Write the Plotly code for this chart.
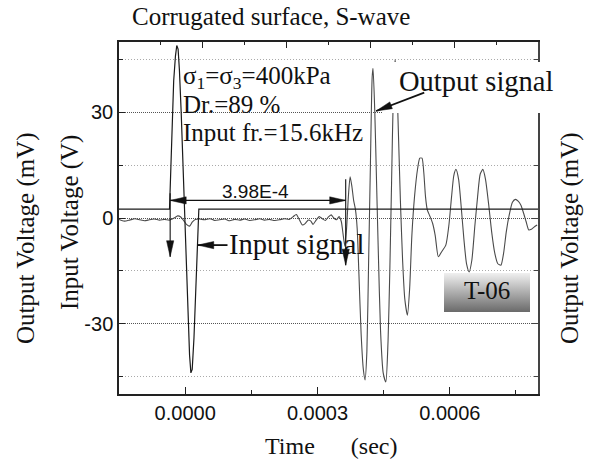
import base64
import math
import numpy as np
import plotly.graph_objects as go

# ---------------- data (time in microseconds, voltage) ----------------
input_t_us = [-150, -35.5, -33, -30, -26, -22, -19, -16, -13, -9, -5, -1, 3, 7,
              10, 13, 16, 20, 24, 28, 31, 800]
input_v = [2.5, 2.5, 12, 25, 39, 46, 49, 48, 42, 30, 15, 2, -14, -30,
           -39, -44, -43, -34, -19, -5, 2.5, 2.5]

output_t_us = [-150, -138, -126, -114, -103, -92, -81, -70, -58, -47, -36, -25, -17, -10,
               -3, 3, 10, 16, 23, 33, 44, 56, 67, 78, 90, 101, 112, 124, 135, 146, 158,
               169, 180, 191, 203, 214, 225, 236, 245, 252, 259, 266, 272, 279, 285, 290,
               297, 304, 311, 318, 324, 331, 337, 343, 349, 354, 358, 362, 366, 370, 374,
               378, 382, 386, 390, 394, 399, 404, 408, 412, 416, 420, 424, 426, 430, 434,
               438, 443, 449, 455, 460, 464, 468, 472, 476, 480, 484, 488, 493, 498, 504,
               509, 514, 520, 527, 532, 537, 541, 545, 549, 555, 561, 567, 574, 582, 591,
               598, 604, 609, 614, 620, 626, 632, 638, 644, 650, 657, 663, 669, 675, 681,
               688, 695, 702, 709, 716, 722, 728, 735, 742, 749, 755, 761, 767, 773, 779,
               785, 791, 798]
output_v = [-0.4, -0.9, -0.6, -0.2, -0.5, -0.8, -0.5, -0.3, -0.6, -0.4, -0.6, 0.0, 0.6, 0.3,
            -0.8, -1.8, -2.3, -1.2, -0.4, -0.3, -0.5, -0.2, -0.7, -0.5, -0.3, -0.8, -0.4, -0.6,
            -0.3, -0.7, -0.5, -0.2, -0.6, -0.4, -0.7, -0.5, -0.2, -0.4, 0.4, 1.0, -0.5, -2.0,
            -1.6, -0.6, -0.9, -1.8, -0.6, 0.4, -0.2, -0.7, 0.2, 0.9, 0.0, -0.5, 0.4, -1.0,
            -4.5, -8, -3, 6, 11.7, 9, 5, 2.5, -3, -16, -33, -43, -46, -38, -12, 15, 40, 42.5,
            30, 10, -10, -32, -44, -46.6, -35, -15, 10, 35, 45, 38, 22, 5, -12, -23, -27.6,
            -20, -5, 6, 14, 17, 17, 13, 6, 2.3, 0.5, -1.5, -5, -11, -9.5, -7.7, -2, 6, 12,
            13.8, 11, 3, -6, -13, -15.3, -12, -2, 6, 12.5, 13.8, 11, 4, -4, -10, -13, -13.4,
            -10, -4, 1, 4.5, 5.3, 4.8, 3.7, 1.5, -1, -3.4, -3.2, -2.6, -2]

x_range = [-0.00015, 0.0008]
y_range = [-50, 50]
x_tickvals = [0.0, 0.0003, 0.0006]
x_ticktext = ["0.0000", "0.0003", "0.0006"]
x_minor = [-0.00015, 0.00015, 0.00045, 0.00075]
y_tickvals = [-30, 0, 30]
y_ticktext = ["-30", "0", "30"]
y_minor = [-45, -15, 15, 45]

interval_start = -34e-6
interval_end = 364e-6
interval_y = 5
interval_label = "3.98E-4"

t_in = np.array(input_t_us) * 1e-6
t_out = np.array(output_t_us) * 1e-6

# ---------------- geometry helpers ----------------
W, H = 592, 462
L, R, T, B = 119, 538, 42, 394
SX = (R - L) / (x_range[1] - x_range[0])   # px per second
SY = (B - T) / (y_range[1] - y_range[0])   # px per volt


def px(x):
    return (x - L) / (R - L)


def py(y):
    return (B - y) / (B - T)


SERIF = "Liberation Serif, Times New Roman, serif"
SANS = "Liberation Sans, Arial, sans-serif"
INK = "#111"

fig = go.Figure()
fig.add_trace(go.Scatter(x=t_out, y=output_v, mode="lines",
                         line=dict(color="#4a4a4a", width=1.1, shape="spline", smoothing=0.6),
                         showlegend=False, hoverinfo="skip"))
fig.add_trace(go.Scatter(x=t_in, y=input_v, mode="lines",
                         line=dict(color="#1a1a1a", width=1.2),
                         showlegend=False, hoverinfo="skip"))
# empty traces to activate the top and right axes
fig.add_trace(go.Scatter(x=[], y=[], xaxis="x2", showlegend=False, hoverinfo="skip"))
fig.add_trace(go.Scatter(x=[], y=[], yaxis="y2", showlegend=False, hoverinfo="skip"))

# ---------------- shapes: label mask, arrows ----------------
shapes = []
# white background of the "Output signal" label (hides what lies beneath it)
shapes.append(dict(type="rect", xref="paper", yref="paper", x0=px(383), x1=px(560),
                   y0=py(113), y1=py(62), fillcolor="white", line=dict(width=0),
                   layer="above"))


def arrow(x0, y0, x1, y1, width=1.2, head_len=16, head_w=3.6, heads=("end",)):
    """shaft from (x0,y0) to (x1,y1) in data units, filled narrow heads"""
    shapes.append(dict(type="line", xref="x", yref="y", x0=x0, y0=y0, x1=x1, y1=y1,
                       line=dict(color=INK, width=width), layer="above"))
    dx, dy = (x1 - x0) * SX, (y1 - y0) * SY
    n = math.hypot(dx, dy)
    ux, uy = dx / n, dy / n
    tips = []
    if "end" in heads:
        tips.append((x1, y1, ux, uy))
    if "start" in heads:
        tips.append((x0, y0, -ux, -uy))
    for tx, ty, vx, vy in tips:
        bx, by = -vx * head_len, -vy * head_len
        qx, qy = -vy * head_w, vx * head_w
        path = "M0,0 L%.2f,%.2f L%.2f,%.2f Z" % (bx + qx, by + qy, bx - qx, by - qy)
        shapes.append(dict(type="path", xref="x", yref="y", xsizemode="pixel",
                           ysizemode="pixel", xanchor=tx, yanchor=ty, path=path,
                           fillcolor=INK, line=dict(color=INK, width=0.5), layer="above"))


arrow(interval_start, interval_y, interval_end, interval_y, width=1.1, heads=("start", "end"))
arrow(interval_start, 7, interval_start, -11, width=1.1)
arrow(interval_end, 11, interval_end, -13.4, width=1.1)
arrow(96e-6, -7.7, 28.5e-6, -7.7, width=1.8)
arrow(542e-6, 35.6, 433e-6, 30.4, width=1.8)

# ---------------- texts ----------------
ann = []


def label(text, x, y, size, family=SERIF, xanchor="left", angle=0):
    ann.append(dict(text=text, xref="paper", yref="paper", x=px(x), y=py(y),
                    xanchor=xanchor, yanchor="middle", showarrow=False, textangle=angle,
                    font=dict(family=family, size=size, color=INK)))


label("Corrugated surface, S-wave", 130, 17, 25)
label("σ<sub>1</sub>=σ<sub>3</sub>=400kPa", 181, 77, 25)
label("Dr.=89 %", 181, 104, 25)
label("Input fr.=15.6kHz", 181, 132, 25)
label(interval_label, 255, 191, 19, family=SANS, xanchor="center")
label("Input signal", 227, 244, 28.5)
label("Output signal", 397, 81, 28.5)
label("T-06", 487, 290, 25, xanchor="center")
label("Time      (sec)", 331, 446, 24, xanchor="center")
label("Output Voltage (mV)", 26, 238, 25, xanchor="center", angle=-90)
label("Input Voltage (V)", 70, 223, 25, xanchor="center", angle=-90)
label("Output Voltage (mV)", 570, 238, 25, xanchor="center", angle=-90)

# gradient box behind "T-06"
bw, bh = 86, 39
svg = ("<svg xmlns='http://www.w3.org/2000/svg' width='%d' height='%d'>"
       "<defs><linearGradient id='g' x1='0' y1='0' x2='0' y2='1'>"
       "<stop offset='0' stop-color='#f0f0f0'/><stop offset='1' stop-color='#6a6a6a'/>"
       "</linearGradient></defs><rect width='%d' height='%d' fill='url(#g)'/></svg>"
       % (bw, bh, bw, bh))
src = "data:image/svg+xml;base64," + base64.b64encode(svg.encode()).decode()

fig.update_layout(
    width=W, height=H,
    margin=dict(l=L, r=W - R, t=T, b=H - B),
    paper_bgcolor="white", plot_bgcolor="white",
    showlegend=False,
    annotations=ann,
    shapes=shapes,
    images=[dict(source=src, xref="paper", yref="paper", x=px(444), y=py(273),
                 sizex=bw / (R - L), sizey=bh / (B - T), xanchor="left", yanchor="top",
                 sizing="stretch", layer="above")],
    xaxis=dict(range=x_range, tickmode="array", tickvals=x_tickvals, ticktext=x_ticktext,
               ticks="inside", ticklen=7, tickwidth=1.3, tickcolor="#222",
               showline=True, linecolor="#222", linewidth=1.5, mirror=False,
               showgrid=False, zeroline=False,
               tickfont=dict(family=SANS, size=20, color=INK),
               minor=dict(tickmode="array", tickvals=x_minor, ticks="inside", ticklen=4,
                          tickwidth=1.2, tickcolor="#222", showgrid=False)),
    xaxis2=dict(range=[0, 10], overlaying="x", side="top", anchor="y",
                tickmode="array", tickvals=[2, 4, 6, 8], ticks="inside", ticklen=6,
                tickwidth=1.3, tickcolor="#222", showticklabels=False,
                showline=True, linecolor="#222", linewidth=1.5,
                showgrid=False, zeroline=False,
                minor=dict(tickmode="array", tickvals=[1, 3, 5, 7, 9], ticks="inside",
                           ticklen=3, tickwidth=1.2, tickcolor="#222", showgrid=False)),
    yaxis=dict(range=y_range, tickmode="array", tickvals=y_tickvals, ticktext=y_ticktext,
               ticks="inside", ticklen=6, tickwidth=1.3, tickcolor="#222",
               showline=True, linecolor="#222", linewidth=1.5, mirror=False,
               showgrid=True, gridcolor="#555", gridwidth=1, griddash="1px,1px",
               zeroline=False,
               tickfont=dict(family=SANS, size=20, color=INK),
               minor=dict(tickmode="array", tickvals=y_minor, ticks="inside", ticklen=4,
                          tickwidth=1.2, tickcolor="#222", showgrid=True,
                          gridcolor="#aaa", gridwidth=1, griddash="1px,2px")),
    yaxis2=dict(range=y_range, overlaying="y", side="right", anchor="x",
                tickmode="array", tickvals=y_tickvals, ticks="inside", ticklen=6,
                tickwidth=1.3, tickcolor="#444", showticklabels=False,
                showline=True, linecolor="#444", linewidth=2.2,
                showgrid=False, zeroline=False,
                minor=dict(tickmode="array", tickvals=y_minor, ticks="inside", ticklen=4,
                           tickwidth=1.2, tickcolor="#444", showgrid=False)),
)

fig.write_html("out.html")
